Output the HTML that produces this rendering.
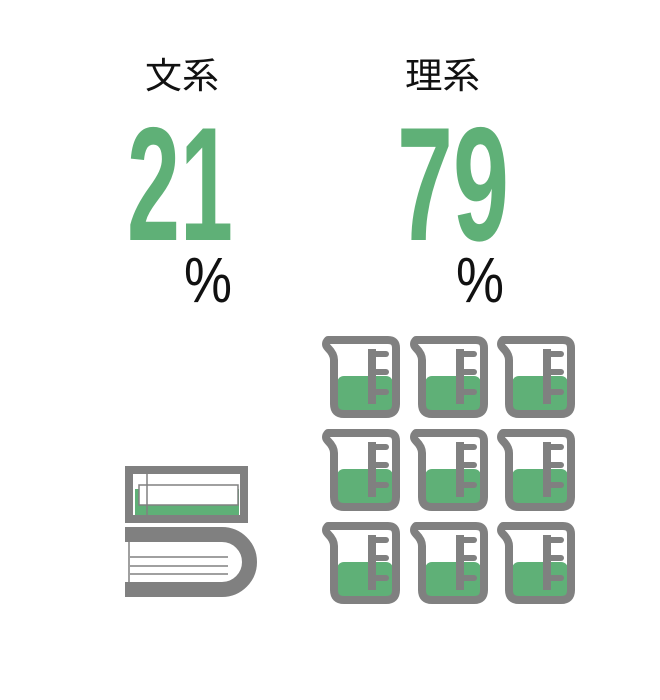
<!DOCTYPE html>
<html><head><meta charset="utf-8"><style>
html,body{margin:0;padding:0;background:#fff;width:660px;height:700px;overflow:hidden}
</style></head><body>
<svg width="660" height="700" viewBox="0 0 660 700" xmlns="http://www.w3.org/2000/svg">
<defs>
<g id="bk">
<rect x="15" y="44" width="56" height="35" rx="7" fill="#5fb077"/>
<path d="M6,8 H66 Q74,8 74,16 V72 Q74,82 64,82 H22 Q12,82 12,72 V28 Q12,22 6,16 Q2,12 6,8 Z" fill="none" stroke="#808080" stroke-width="8" stroke-linejoin="round"/>
<rect x="46" y="17" width="8" height="55" fill="#808080"/>
<g stroke="#808080" stroke-width="6" stroke-linecap="round"><line x1="50" y1="22" x2="64" y2="22"/><line x1="50" y1="40" x2="64" y2="40"/><line x1="50" y1="60" x2="64" y2="60"/></g>
</g>
</defs>
<g font-family="'Liberation Sans','Noto Sans CJK JP',sans-serif">
<text x="145" y="88" font-size="36" fill="#111" textLength="74" lengthAdjust="spacingAndGlyphs">文系</text>
<text x="405" y="88" font-size="36" fill="#111" textLength="75" lengthAdjust="spacingAndGlyphs">理系</text>
<text x="127" y="240" font-size="162" font-weight="bold" fill="#5fb077" textLength="106" lengthAdjust="spacingAndGlyphs">21</text>
<text x="397" y="240" font-size="162" font-weight="bold" fill="#5fb077" textLength="112" lengthAdjust="spacingAndGlyphs">79</text>
<text x="184" y="302" font-size="64" fill="#111" textLength="48" lengthAdjust="spacingAndGlyphs">%</text>
<text x="456" y="302" font-size="64" fill="#111" textLength="48" lengthAdjust="spacingAndGlyphs">%</text>
</g>
<rect x="135" y="489" width="104" height="29" fill="#5fb077"/>
<rect x="129" y="470" width="115" height="49" fill="none" stroke="#808080" stroke-width="8"/>
<rect x="139" y="485" width="99" height="20" fill="#fff" stroke="#808080" stroke-width="1.5"/>
<line x1="147" y1="474" x2="147" y2="517" stroke="#808080" stroke-width="1.5"/>
<path d="M125,534.5 H222 A27.5,27.5 0 0 1 222,589.5 H125" fill="none" stroke="#808080" stroke-width="15"/>
<line x1="129" y1="542" x2="129" y2="582" stroke="#808080" stroke-width="1.5"/>
<g stroke="#808080" stroke-width="1.5"><line x1="130" y1="557" x2="228" y2="557"/><line x1="130" y1="566" x2="228" y2="566"/><line x1="130" y1="574" x2="228" y2="574"/></g>
<use href="#bk" x="322" y="332"/><use href="#bk" x="410" y="332"/><use href="#bk" x="497" y="332"/>
<use href="#bk" x="322" y="425"/><use href="#bk" x="410" y="425"/><use href="#bk" x="497" y="425"/>
<use href="#bk" x="322" y="518"/><use href="#bk" x="410" y="518"/><use href="#bk" x="497" y="518"/>
</svg>
</body></html>
